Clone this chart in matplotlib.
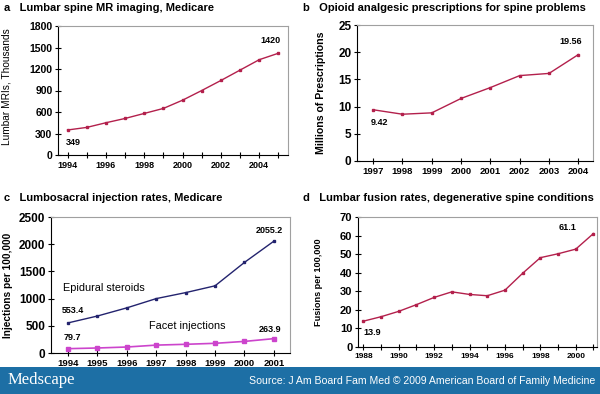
import matplotlib.pyplot as plt
from matplotlib.patches import Rectangle

plt.rcParams['font.family'] = ['Liberation Sans', 'DejaVu Sans']

# a - lumbar MRI
mri_years = list(range(1994, 2006))
mri_vals = [349, 385, 450, 510, 580, 650, 765, 900, 1040, 1185, 1330, 1420]

# b - opioid prescriptions
opi_years = ['1997', '1998', '1999', '2000', '2001', '2002', '2003', '2004']
opi_vals = [9.42, 8.6, 8.85, 11.5, 13.5, 15.7, 16.1, 19.56]

# c - injections
inj_years = ['1994', '1995', '1996', '1997', '1998', '1999', '2000', '2001']
epidural = [553.4, 680, 830, 1000, 1110, 1235, 1665, 2055.2]
facet = [79.7, 92, 110, 145, 160, 178, 213, 263.9]

# d - fusion
fus_years = list(range(1988, 2002))
fus_vals = [13.9, 16.3, 19.2, 22.8, 26.7, 29.7, 28.3, 27.6, 30.6, 39.7, 48.1, 50.2, 52.7, 61.1]

red = '#b3204c'
W, H = 600, 394


def px_axes(fig, left, right, top, bottom):
    return fig.add_axes([left / W, 1 - bottom / H, (right - left) / W, (bottom - top) / H])


def style(ax, xsize, ysize):
    for s in ['top', 'right']:
        ax.spines[s].set_color('#a0a0a0')
        ax.spines[s].set_linewidth(0.8)
    for s in ['left', 'bottom']:
        ax.spines[s].set_color('black')
        ax.spines[s].set_linewidth(0.8)
    ax.tick_params(direction='inout', length=4, width=0.8, pad=2)
    ax.tick_params(axis='x', labelsize=xsize)
    ax.tick_params(axis='y', labelsize=ysize)
    for t in ax.get_xticklabels() + ax.get_yticklabels():
        t.set_fontweight('bold')


def note(ax, txt, xy, off, size=6.5):
    ax.annotate(txt, xy=xy, xytext=off, textcoords='offset pixels',
                ha='center', va='center', fontsize=size, fontweight='bold')


fig = plt.figure(figsize=(6, 3.94), dpi=100)

# panel a
ax = px_axes(fig, 58, 288, 26, 155)
ax.plot(mri_years, mri_vals, color=red, lw=1, marker='s', ms=2)
ax.set_xlim(1993.5, 2005.5)
ax.set_ylim(0, 1800)
ax.set_yticks(range(0, 1801, 300))
ax.set_xticks(mri_years)
ax.set_xticklabels([str(y) if y % 2 == 0 else '' for y in mri_years])
style(ax, 6.5, 7.5)
ax.set_ylabel('Lumbar MRIs, Thousands', fontsize=7.3)
ax.yaxis.set_label_coords(-0.2, 0.53)
note(ax, '349', (mri_years[0], mri_vals[0]), (6, -13))
note(ax, '1420', (mri_years[-1], mri_vals[-1]), (-8, 13))
fig.text(4 / W, 1 - 8 / H, 'a   Lumbar spine MR imaging, Medicare',
         fontsize=8, fontweight='bold', va='center')

# panel b
ax = px_axes(fig, 357, 593, 25, 161)
ax.plot(range(len(opi_years)), opi_vals, color=red, lw=1, marker='s', ms=2)
ax.set_xlim(-0.55, 7.5)
ax.set_ylim(0, 25)
ax.set_yticks(range(0, 26, 5))
ax.set_xticks(range(len(opi_years)))
ax.set_xticklabels(opi_years)
style(ax, 6.8, 8.5)
ax.set_ylabel('Millions of Prescriptions', fontsize=7.6, fontweight='bold')
ax.yaxis.set_label_coords(-0.133, 0.5)
note(ax, '9.42', (0, opi_vals[0]), (6, -13))
note(ax, '19.56', (7, opi_vals[-1]), (-8, 13))
fig.text(303 / W, 1 - 8 / H, 'b   Opioid analgesic prescriptions for spine problems',
         fontsize=8, fontweight='bold', va='center')

# panel c
ax = px_axes(fig, 51, 290, 217, 353)
xs = range(len(inj_years))
ax.plot(xs, epidural, color='#23236e', lw=1, marker='s', ms=2)
ax.plot(xs, facet, color='#cc44cc', lw=1.2, marker='s', ms=2.5)
ax.set_xlim(-0.58, 7.55)
ax.set_ylim(0, 2500)
ax.set_yticks(range(0, 2501, 500))
ax.set_xticks(xs)
ax.set_xticklabels(inj_years)
style(ax, 6.8, 8.5)
ax.set_ylabel('Injections per 100,000', fontsize=7.3, fontweight='bold')
ax.yaxis.set_label_coords(-0.16, 0.5)
note(ax, '553.4', (0, epidural[0]), (5, 12))
note(ax, '2055.2', (7, epidural[-1]), (-4, 11))
note(ax, '79.7', (0, facet[0]), (4, 11))
note(ax, '263.9', (7, facet[-1]), (-4, 9))
ax.text(-0.17, 1190, 'Epidural steroids', fontsize=7.8, va='center', ha='left')
ax.text(2.75, 492, 'Facet injections', fontsize=7.8, va='center', ha='left')
fig.text(4 / W, 1 - 198 / H, 'c   Lumbosacral injection rates, Medicare',
         fontsize=8, fontweight='bold', va='center')

# panel d
ax = px_axes(fig, 358, 597, 217, 347)
ax.plot(fus_years, fus_vals, color=red, lw=1, marker='s', ms=2)
ax.set_xlim(1987.7, 2001.2)
ax.set_ylim(0, 70)
ax.set_yticks(range(0, 71, 10))
ax.set_xticks(fus_years)
ax.set_xticklabels([str(y) if y % 2 == 0 else '' for y in fus_years])
style(ax, 6, 8)
ax.set_ylabel('Fusions per 100,000', fontsize=6.6, fontweight='bold')
ax.yaxis.set_label_coords(-0.146, 0.5)
note(ax, '13.9', (fus_years[0], fus_vals[0]), (9, -11))
note(ax, '61.1', (fus_years[-1], fus_vals[-1]), (-26, 6))
fig.text(303 / W, 1 - 198 / H, 'd   Lumbar fusion rates, degenerative spine conditions',
         fontsize=8, fontweight='bold', va='center')

# footer band
band_h = 27 / H
fig.add_artist(Rectangle((0, 0), 1, band_h, transform=fig.transFigure,
                         facecolor='#1d6fa5', edgecolor='none'))
fig.text(8 / W, band_h / 2, 'Medscape', color='white', fontsize=12,
         family='Liberation Serif', va='center', ha='left')
fig.text(595 / W, band_h / 2,
         'Source: J Am Board Fam Med \u00a9 2009 American Board of Family Medicine',
         color='white', fontsize=7.6, va='center', ha='right')

fig.savefig('out.png', dpi=100)
